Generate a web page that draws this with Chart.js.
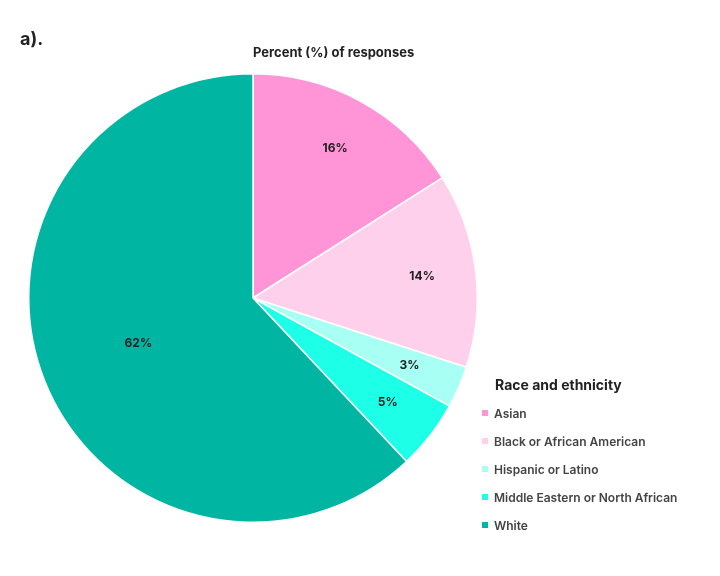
<!DOCTYPE html>
<html>
<head>
<meta charset="utf-8">
<script src="https://cdn.jsdelivr.net/npm/chart.js@4"></script>
<style>
  body { margin: 0; background: #fff; font-family: 'Inter', 'Open Sans', sans-serif; }
  #wrap { position: relative; width: 720px; height: 576px; }
  .txt { position: absolute; color: #222; font-weight: 700; }
  #legend { position: absolute; left: 482px; top: 376px; }
  #legend .head { font-size: 14px; font-weight: 700; color: #222; margin: 0 0 6px 13px; }
  #legend .item { font-size: 12px; font-weight: 600; color: #444; height: 28px; display: flex; align-items: center; }
  #legend .sw { width: 6px; height: 6px; margin-right: 6px; }
</style>
</head>
<body>
<div id="wrap">
  <canvas id="chart" width="720" height="576"></canvas>
  <div class="txt" style="left:20px;top:28px;font-size:18px;">a).</div>
  <div class="txt" style="left:253px;top:44px;font-size:13px;">Percent (%) of responses</div>
  <div id="legend"></div>
</div>
<script>
const categories = ['Asian', 'Black or African American', 'Hispanic or Latino', 'Middle Eastern or North African', 'White'];
const values = [16, 14, 3, 5, 62];
const colors = ['#FF94D6', '#FFD0EC', '#A8FFF4', '#1EFFE8', '#00B5A2'];

const labelPlugin = {
  id: 'sliceLabels',
  afterDatasetsDraw: function (chart) {
    const ctx = chart.ctx;
    const meta = chart.getDatasetMeta(0);
    ctx.save();
    ctx.font = '700 12px Inter, sans-serif';
    ctx.fillStyle = '#222';
    ctx.textAlign = 'center';
    ctx.textBaseline = 'middle';
    meta.data.forEach(function (arc, i) {
      const factor = values[i] > 50 ? 0.55 : 0.76;
      const angle = (arc.startAngle + arc.endAngle) / 2;
      const r = arc.outerRadius * factor;
      ctx.fillText(values[i] + '%', arc.x + Math.cos(angle) * r, arc.y + Math.sin(angle) * r);
    });
    ctx.restore();
  }
};

new Chart(document.getElementById('chart'), {
  type: 'pie',
  data: {
    labels: categories,
    datasets: [{ data: values, backgroundColor: colors, borderColor: '#fff', borderWidth: 1.5 }]
  },
  options: {
    responsive: false,
    animation: false,
    layout: { padding: { left: 28, top: 73, right: 242, bottom: 53 } },
    plugins: { legend: { display: false }, tooltip: { enabled: false } }
  },
  plugins: [labelPlugin]
});

const legend = document.getElementById('legend');
legend.innerHTML = '<div class="head">Race and ethnicity</div>';
categories.forEach(function (name, i) {
  const item = document.createElement('div');
  item.className = 'item';
  item.innerHTML = '<span class="sw" style="background:' + colors[i] + '"></span>' + name;
  legend.appendChild(item);
});
</script>
</body>
</html>
